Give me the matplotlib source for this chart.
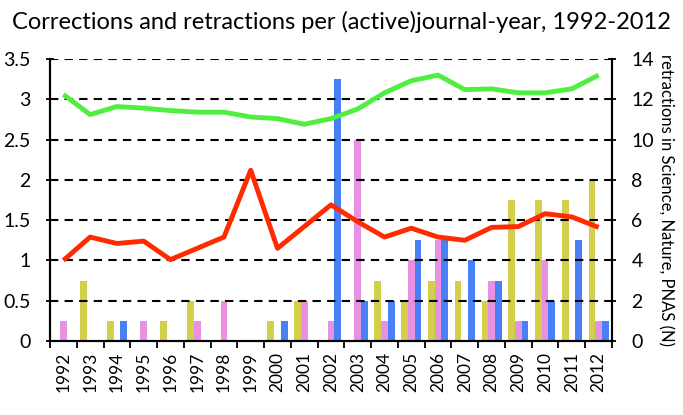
import matplotlib
matplotlib.use("Agg")
import matplotlib.pyplot as plt
import numpy as np

years = [str(y) for y in range(1992, 2013)]
green = [3.06, 2.81, 2.91, 2.89, 2.86, 2.84, 2.84, 2.78, 2.76, 2.69, 2.76,
         2.88, 3.08, 3.23, 3.30, 3.12, 3.13, 3.08, 3.08, 3.13, 3.30]
red = [1.00, 1.29, 1.21, 1.24, 1.01, 1.15, 1.29, 2.12, 1.15, 1.42, 1.69,
       1.48, 1.29, 1.40, 1.29, 1.25, 1.41, 1.42, 1.58, 1.54, 1.41]
yellow_n = [0, 3, 1, 0, 1, 2, 0, 0, 1, 2, 0, 0, 3, 2, 3, 3, 2, 7, 7, 7, 8]
pink_n = [1, 0, 0, 1, 0, 1, 2, 0, 0, 2, 1, 10, 1, 4, 5, 0, 3, 1, 4, 0, 1]
blue_n = [0, 0, 1, 0, 0, 0, 0, 0, 1, 0, 13, 2, 2, 5, 5, 4, 3, 1, 2, 5, 1]

plt.rcParams['font.family'] = ['Lato', 'DejaVu Sans']

fig = plt.figure(figsize=(6.83, 4.15), dpi=100)
ax = fig.add_axes([50/683, 1-341/415, (612-50)/683, (341-59)/415])
ax2 = ax.twinx()

x = np.arange(len(years))
w = 0.25
ax2.bar(x - w, yellow_n, w, color='#d4cf4a', zorder=2)
ax2.bar(x, pink_n, w, color='#e891e2', zorder=2)
ax2.bar(x + w, blue_n, w, color='#4a80f5', zorder=2)
ax2.set_ylim(0, 14)
ax2.set_yticks(range(0, 15, 2))

ax.set_ylim(0, 3.5)
ax.set_xlim(-0.5, len(years) - 0.5)
ax.set_yticks(np.arange(0, 3.51, 0.5))
ax.set_yticklabels(['0', '0.5', '1', '1.5', '2', '2.5', '3', '3.5'])
for v in np.arange(0.5, 3.51, 0.5):
    ax.axhline(v, color='black', linestyle=(0, (4, 3)), linewidth=1.5, zorder=0)

ax.set_zorder(ax2.get_zorder() + 1)
ax.patch.set_visible(False)
ax.plot(x, green, color='#4fef3f', linewidth=3.5, zorder=3, solid_capstyle='butt')
ax.plot(x, red, color='#ff2a00', linewidth=3.5, zorder=3, solid_capstyle='butt')

ax.set_xticks(x)
ax.set_xticklabels(years, rotation=90, fontsize=12.5)
ax.set_xticks(np.arange(-0.5, len(years), 1), minor=True)
ax.tick_params(axis='x', which='major', length=0, pad=8)
ax.tick_params(axis='x', which='minor', length=5, width=1.3, direction='out')
ax.tick_params(axis='y', length=6, width=1.3, direction='inout', labelsize=14, pad=11)
ax2.tick_params(axis='y', length=6, width=1.3, direction='inout', labelsize=14, pad=11)

for a in (ax, ax2):
    a.spines['top'].set_visible(False)
    for s in ('left', 'right', 'bottom'):
        a.spines[s].set_linewidth(1.5)

ax2.set_ylabel('retractions in Science, Nature, PNAS (N)', rotation=270,
               fontsize=12, labelpad=14)
fig.text(0.5, 1-22/415, 'Corrections and retractions per (active)journal-year, 1992-2012',
         ha='center', va='center', fontsize=17)

fig.savefig('out.png', dpi=100)
